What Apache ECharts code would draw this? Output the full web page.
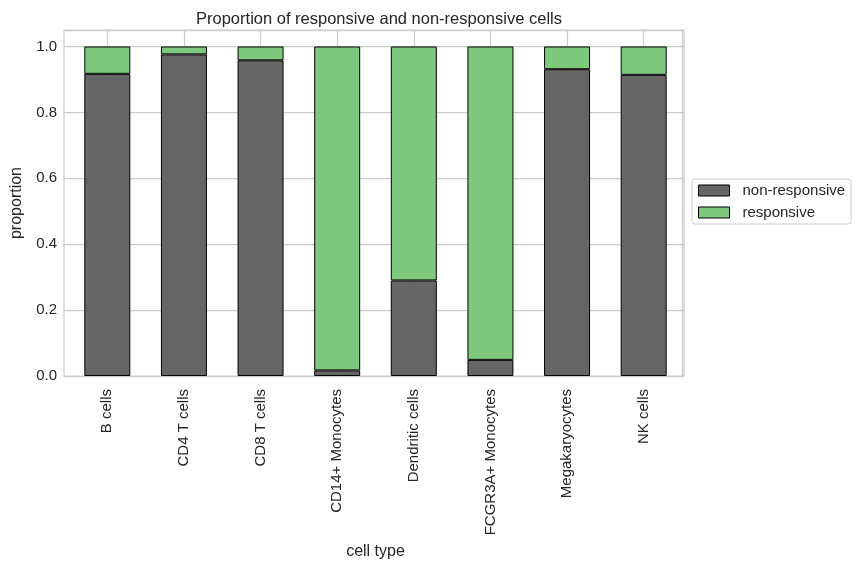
<!DOCTYPE html>
<html>
<head>
<meta charset="utf-8">
<script src="https://cdn.jsdelivr.net/npm/echarts@6/dist/echarts.min.js"></script>
<style>
  html, body { margin: 0; padding: 0; background: #fff; }
  #chart { width: 862px; height: 569px; }
</style>
</head>
<body>
<div id="chart"></div>
<script>
var cellTypes = ['B cells', 'CD4 T cells', 'CD8 T cells', 'CD14+ Monocytes',
                 'Dendritic cells', 'FCGR3A+ Monocytes', 'Megakaryocytes', 'NK cells'];
var nonResponsive = [0.917, 0.976, 0.958, 0.017, 0.290, 0.049, 0.931, 0.914];
var responsive = [0.083, 0.024, 0.042, 0.983, 0.710, 0.951, 0.069, 0.086];
var yTicks = [0, 0.2, 0.4, 0.6, 0.8, 1.0];

// half-band categories for the vertical grid lines at bar centres
var halfBands = [];
for (var i = 0; i < cellTypes.length * 2; i++) {
    halfBands.push(String(i));
}

var font = 'Liberation Sans, Arial, sans-serif';
var textColor = '#262626';
var gridColor = '#cccccc';

var myChart = echarts.init(document.getElementById('chart'));

var option = {
    animation: false,
    textStyle: { fontFamily: font },
    title: {
        text: 'Proportion of responsive and non-responsive cells',
        left: 374,
        textAlign: 'center',
        top: 6,
        textStyle: { fontSize: 16.5, fontWeight: 'normal', color: textColor, fontFamily: font }
    },
    legend: {
        orient: 'vertical',
        left: 692,
        top: 179,
        padding: [4, 6, 4, 6],
        itemGap: 7,
        itemWidth: 31,
        itemHeight: 11,
        icon: 'rect',
        borderColor: gridColor,
        borderWidth: 1,
        borderRadius: 3,
        itemStyle: { borderColor: '#000000', borderWidth: 1 },
        textStyle: { fontSize: 15, color: textColor, fontFamily: font, padding: [0, 0, 0, 8] },
        data: ['non-responsive', 'responsive']
    },
    grid: [
        // frame + horizontal grid lines (axes box is a bit wider than the bars' span)
        { left: 64, right: 178, top: 30, bottom: 193, show: true,
          borderColor: gridColor, borderWidth: 1.25 },
        // bars
        { left: 69, right: 180, top: 30, bottom: 193 }
    ],
    xAxis: [
        {
            gridIndex: 0,
            type: 'value',
            show: false
        },
        {
            gridIndex: 1,
            type: 'category',
            data: cellTypes,
            name: 'cell type',
            nameLocation: 'middle',
            nameGap: 167,
            nameTextStyle: { fontSize: 16, color: textColor, fontFamily: font },
            axisLine: { show: false },
            axisTick: { show: false },
            splitLine: { show: false },
            axisLabel: { rotate: 90, fontSize: 15, color: textColor, margin: 13, fontFamily: font }
        },
        {
            gridIndex: 1,
            type: 'category',
            data: halfBands,
            position: 'bottom',
            axisLine: { show: false },
            axisTick: { show: false },
            axisLabel: { show: false },
            splitLine: {
                show: true,
                interval: function (index) { return index % 2 === 1; },
                lineStyle: { color: gridColor, width: 1.25 }
            }
        }
    ],
    yAxis: [
        {
            gridIndex: 0,
            type: 'value',
            min: 0,
            max: 1.05,
            interval: 0.2,
            name: 'proportion',
            nameLocation: 'middle',
            nameGap: 39,
            nameTextStyle: { fontSize: 16, color: textColor, fontFamily: font },
            axisLine: { show: false },
            axisTick: { show: false },
            splitLine: { show: true, lineStyle: { color: gridColor, width: 1.25 } },
            axisLabel: {
                fontSize: 15,
                color: textColor,
                margin: 7,
                fontFamily: font,
                formatter: function (v) {
                    for (var k = 0; k < yTicks.length; k++) {
                        if (Math.abs(v - yTicks[k]) < 1e-6) return yTicks[k].toFixed(1);
                    }
                    return '';
                }
            }
        },
        {
            gridIndex: 1,
            type: 'value',
            min: 0,
            max: 1.05,
            show: false,
            splitLine: { show: false }
        }
    ],
    series: [
        {
            name: 'non-responsive',
            type: 'bar',
            stack: 'total',
            xAxisIndex: 1,
            yAxisIndex: 1,
            barWidth: '60%',
            data: nonResponsive,
            itemStyle: { color: '#666666', borderColor: '#000000', borderWidth: 1 }
        },
        {
            name: 'responsive',
            type: 'bar',
            stack: 'total',
            xAxisIndex: 1,
            yAxisIndex: 1,
            barWidth: '60%',
            data: responsive,
            itemStyle: { color: '#7fc97f', borderColor: '#000000', borderWidth: 1 }
        }
    ]
};

myChart.setOption(option);
</script>
</body>
</html>
